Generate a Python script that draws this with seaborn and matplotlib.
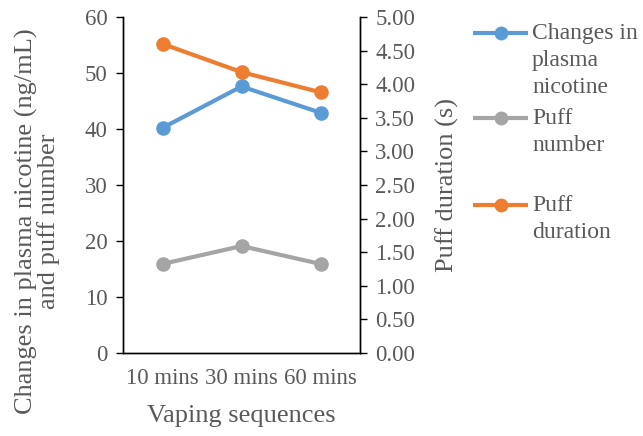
import matplotlib
matplotlib.use("Agg")
import matplotlib.pyplot as plt
from matplotlib.lines import Line2D
import seaborn as sns
import pandas as pd

sequences = ["10 mins", "30 mins", "60 mins"]
plasma_nicotine = [40.2, 47.6, 42.9]
puff_number = [15.9, 19.1, 15.9]
puff_duration = [4.60, 4.18, 3.88]

series_labels = [["Changes in", "plasma", "nicotine"], ["Puff", "number"], ["Puff", "duration"]]

sns.set_theme(style="white")
plt.rcParams["font.family"] = ["Liberation Serif", "DejaVu Serif"]

BLUE = "#5B9BD5"
GRAY = "#A5A5A5"
ORANGE = "#ED7D31"
TEXT = "#595959"
TICK_FS = 16.5
XLABEL_FS = 19
YLABEL_FS = 19
LEG_FS = 17

W, H = 643, 436
fig = plt.figure(figsize=(W / 100, H / 100), dpi=100)
ax = fig.add_axes([123 / W, 1 - 353 / H, 237 / W, 336 / H])
ax2 = ax.twinx()

pos = list(range(len(sequences)))
df = pd.DataFrame({"pos": pos, "nic": plasma_nicotine, "num": puff_number, "dur": puff_duration})

line_kw = dict(linewidth=3.0, marker="o", markersize=10.5, markeredgewidth=0, legend=False)
sns.lineplot(data=df, x="pos", y="nic", ax=ax, color=BLUE, **line_kw)
sns.lineplot(data=df, x="pos", y="num", ax=ax, color=GRAY, **line_kw)
sns.lineplot(data=df, x="pos", y="dur", ax=ax2, color=ORANGE, **line_kw)

ax.set_xlim(-0.5, len(sequences) - 0.5)
ax.set_ylim(0, 60)
ax2.set_ylim(0, 5)
ax.set_yticks(range(0, 61, 10))
ax2.set_yticks([i * 0.5 for i in range(11)])
ax2.set_yticklabels([f"{i * 0.5:.2f}" for i in range(11)])

# category boundaries carry the tick marks, category centres carry the labels
ax.set_xticks([i - 0.5 for i in range(len(sequences) + 1)])
ax.set_xticklabels([])
ax.set_xticks(pos, minor=True)
ax.set_xticklabels(sequences, minor=True)
ax.tick_params(axis="x", which="minor", length=0, pad=11, labelsize=TICK_FS, labelcolor=TEXT)
ax.tick_params(axis="x", which="major", length=5, width=1, color="black", direction="out")
ax.tick_params(axis="y", length=5, width=1, color="black", direction="out", labelsize=TICK_FS,
               labelcolor=TEXT, left=True, pad=6)
ax2.tick_params(axis="y", length=5, width=1, color="black", direction="out", labelsize=TICK_FS,
                labelcolor=TEXT, right=True, pad=6)

for a in (ax, ax2):
    a.spines["top"].set_visible(False)
    for s in ("left", "right", "bottom"):
        a.spines[s].set_color("black")
        a.spines[s].set_linewidth(1.0)
    a.grid(False)

ax.set_xlabel("Vaping sequences", fontsize=XLABEL_FS, color=TEXT, labelpad=11)
ax.set_ylabel("Changes in plasma nicotine (ng/mL)\nand puff number", fontsize=YLABEL_FS,
              color=TEXT, linespacing=0.95)
ax.yaxis.set_label_coords(-0.266, 0.391)
ax2.set_ylabel("Puff duration (s)", fontsize=YLABEL_FS, color=TEXT)
ax2.yaxis.set_label_coords(1.321, 0.5)

# legend on the right: handle beside the first line of each wrapped label
entry_y = [33, 118, 205]
line_step = 27
for color, lines, yc in zip([BLUE, GRAY, ORANGE], series_labels, entry_y):
    fig.add_artist(Line2D([473 / W, 528 / W], [1 - yc / H] * 2, color=color, linewidth=3.0,
                          solid_capstyle="butt", transform=fig.transFigure))
    fig.add_artist(Line2D([500.5 / W], [1 - yc / H], color=color, marker="o", markersize=10,
                          markeredgewidth=0, linestyle="none", transform=fig.transFigure))
    for k, txt in enumerate(lines):
        fig.text(532 / W, 1 - (yc + 6 + k * line_step) / H, txt, fontsize=LEG_FS, color=TEXT,
                 ha="left", va="baseline")

fig.savefig("out.png", dpi=100)
